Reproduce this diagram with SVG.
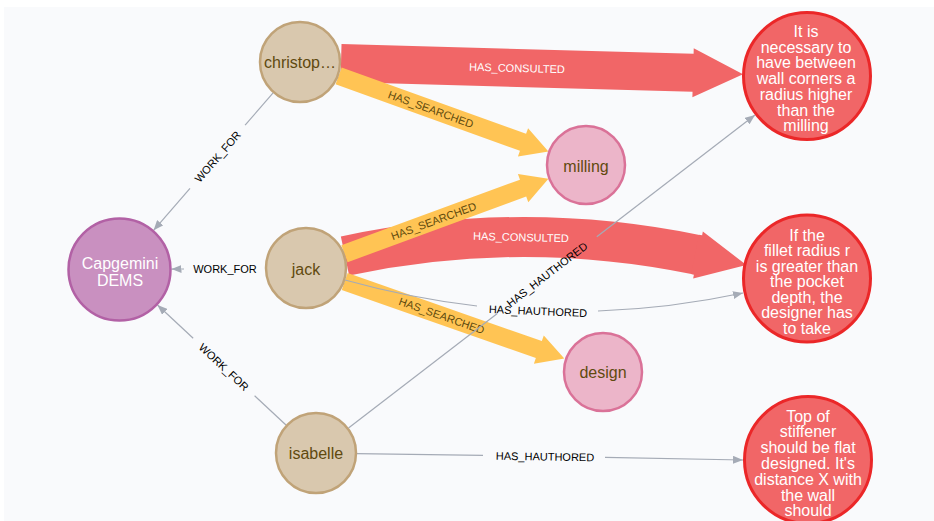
<svg xmlns="http://www.w3.org/2000/svg" width="934" height="521" viewBox="0 0 934 521">
<defs>
<style>
text{font-family:"Liberation Sans",Arial,sans-serif}
.tan circle{fill:#d9c8ae;stroke:#c0a378;stroke-width:2.5}
.pink circle{fill:#ecb5c9;stroke:#da7298;stroke-width:2.5}
.org circle{fill:#c990c0;stroke:#b261a5;stroke-width:2.5}
.red circle{fill:#f16667;stroke:#eb2728;stroke-width:3}
.tan text,.pink text{fill:#604a0e;font-size:16px;text-anchor:middle}
.org text,.red text{fill:#ffffff;font-size:16px;text-anchor:middle}
.g{fill:none;stroke:#a5abb6;stroke-width:1.2}
.ya{fill:#ffc454}
.ra{fill:#f16667}
.rs{fill:none;stroke:#f16667;stroke-width:40}
.lbl{font-size:11px;text-anchor:middle;dominant-baseline:central;fill:#000}
.lw{fill:#ffffff}
.ly{fill:#604a0e}
</style>
<marker id="ah" markerUnits="userSpaceOnUse" viewBox="0 0 10 8" refX="10" refY="4" markerWidth="10" markerHeight="8" orient="auto"><path d="M0,0 L10,4 L0,8 z" fill="#a5abb6"/></marker>
</defs>
<rect x="0" y="0" width="934" height="521" fill="#ffffff"/>
<rect x="4" y="7" width="930" height="514" fill="#f9fafc"/>
<g id="connectors">
  <g id="e-chris-consulted" transform="translate(341,63.1) rotate(1.58)">
    <polygon class="ra" points="0,-19 352.2,-19 352.2,-24.5 402.2,0 352.2,24.5 352.2,19 0,19"/>
    <text class="lbl lw" x="176" y="0">HAS_CONSULTED</text>
  </g>
  <g id="e-jack-consulted">
    <path class="rs" d="M345,256 Q521.5,218.5 698,255"/>
    <polygon class="ra" transform="translate(698,255) rotate(11.68)" points="-3,-20 0,-20 0,-24 49.4,0 0,24 0,20 -3,20"/>
    <text class="lbl lw" x="521" y="237" transform="rotate(1.5 521 237)">HAS_CONSULTED</text>
  </g>
  <g id="e-chris-searched" transform="translate(338.6,75.9) rotate(19.8)">
    <polygon class="ya" points="0,-9 196,-9 196,-15 223,0 196,15 196,9 0,9"/>
    <text class="lbl ly" x="98" y="0">HAS_SEARCHED</text>
  </g>
  <g id="e-jack-searched-milling" transform="translate(344.5,253.8) rotate(-20.2)">
    <polygon class="ya" points="0,-9 190.3,-9 190.3,-15 217.3,0 190.3,15 190.3,9 0,9"/>
    <text class="lbl ly" x="95" y="0">HAS_SEARCHED</text>
  </g>
  <g id="e-jack-searched-design" transform="translate(344.7,281.6) rotate(19.3)">
    <polygon class="ya" points="0,-9 205.7,-9 205.7,-15 232.7,0 205.7,15 205.7,9 0,9"/>
    <text class="lbl ly" x="102.8" y="0">HAS_SEARCHED</text>
  </g>
  <g id="e-jack-hauthored">
    <path class="g" d="M345,280 Q411,298.4 477,306"/>
    <path class="g" d="M598,311 Q670.5,308.5 743,293" marker-end="url(#ah)"/>
    <text class="lbl" x="538" y="311" transform="rotate(2.3 538 311)">HAS_HAUTHORED</text>
  </g>
  <g id="e-isa-hauthored-1">
    <path class="g" d="M348.5,428 L497,313.7"/>
    <path class="g" d="M596.8,236.8 L755,115" marker-end="url(#ah)"/>
    <text class="lbl" x="547" y="274.5" transform="rotate(-37.6 547 274.5)">HAS_HAUTHORED</text>
  </g>
  <g id="e-isa-hauthored-3">
    <path class="g" d="M357,453.6 L483,455.3"/>
    <path class="g" d="M605,457.3 L743,460" marker-end="url(#ah)"/>
    <text class="lbl" x="545" y="456.5" transform="rotate(0.9 545 456.5)">HAS_HAUTHORED</text>
  </g>
  <g id="e-chris-work">
    <path class="g" d="M273.1,92.9 L245.1,125.1"/>
    <path class="g" d="M190,188.3 L153.6,230.3" marker-end="url(#ah)"/>
    <text class="lbl" x="217.6" y="156.7" transform="rotate(-49 217.6 156.7)">WORK_FOR</text>
  </g>
  <g id="e-jack-work">
    <path class="g" d="M184,269 L171.5,269.1" marker-end="url(#ah)"/>
    <text class="lbl" x="225" y="269">WORK_FOR</text>
  </g>
  <g id="e-isa-work">
    <path class="g" d="M286,425 L254.6,395.7"/>
    <path class="g" d="M193.2,338.3 L157.5,305" marker-end="url(#ah)"/>
    <text class="lbl" x="223.9" y="367" transform="rotate(43 223.9 367)">WORK_FOR</text>
  </g>
</g>
<g id="node-christop" class="tan">
  <circle cx="300" cy="62" r="40"/>
  <text x="300" y="67.5">christop…</text>
</g>
<g id="node-jack" class="tan">
  <circle cx="306" cy="268" r="40"/>
  <text x="306" y="275">jack</text>
</g>
<g id="node-isabelle" class="tan">
  <circle cx="316" cy="453" r="40"/>
  <text x="316" y="459">isabelle</text>
</g>
<g id="node-capgemini" class="org">
  <circle cx="119.5" cy="269.5" r="51"/>
  <text x="120" y="268.5">Capgemini</text>
  <text x="120" y="285.5">DEMS</text>
</g>
<g id="node-milling" class="pink">
  <circle cx="586" cy="165" r="39"/>
  <text x="586" y="172">milling</text>
</g>
<g id="node-design" class="pink">
  <circle cx="603" cy="372" r="39"/>
  <text x="603" y="378">design</text>
</g>
<g id="node-advice-1" class="red">
  <circle cx="807" cy="76" r="63.5"/>
  <text x="806"><tspan x="806" y="37">It is</tspan><tspan x="806" y="52.7">necessary to</tspan><tspan x="806" y="68.4">have between</tspan><tspan x="806" y="84.1">wall corners a</tspan><tspan x="806" y="99.8">radius higher</tspan><tspan x="806" y="115.5">than the</tspan><tspan x="806" y="131.2">milling</tspan></text>
</g>
<g id="node-advice-2" class="red">
  <circle cx="807" cy="278.5" r="63.5"/>
  <text x="807"><tspan x="807" y="240.5">If the</tspan><tspan x="807" y="256.1">fillet radius r</tspan><tspan x="807" y="271.6">is greater than</tspan><tspan x="807" y="287.2">the pocket</tspan><tspan x="807" y="302.7">depth, the</tspan><tspan x="807" y="318.3">designer has</tspan><tspan x="807" y="333.8">to take</tspan></text>
</g>
<g id="node-advice-3" class="red">
  <circle cx="808" cy="460" r="63.5"/>
  <text x="808"><tspan x="808" y="421.5">Top of</tspan><tspan x="808" y="437.3">stiffener</tspan><tspan x="808" y="453.1">should be flat</tspan><tspan x="808" y="468.9">designed. It's</tspan><tspan x="808" y="484.7">distance X with</tspan><tspan x="808" y="500.5">the wall</tspan><tspan x="808" y="516.3">should</tspan></text>
</g>
</svg>
